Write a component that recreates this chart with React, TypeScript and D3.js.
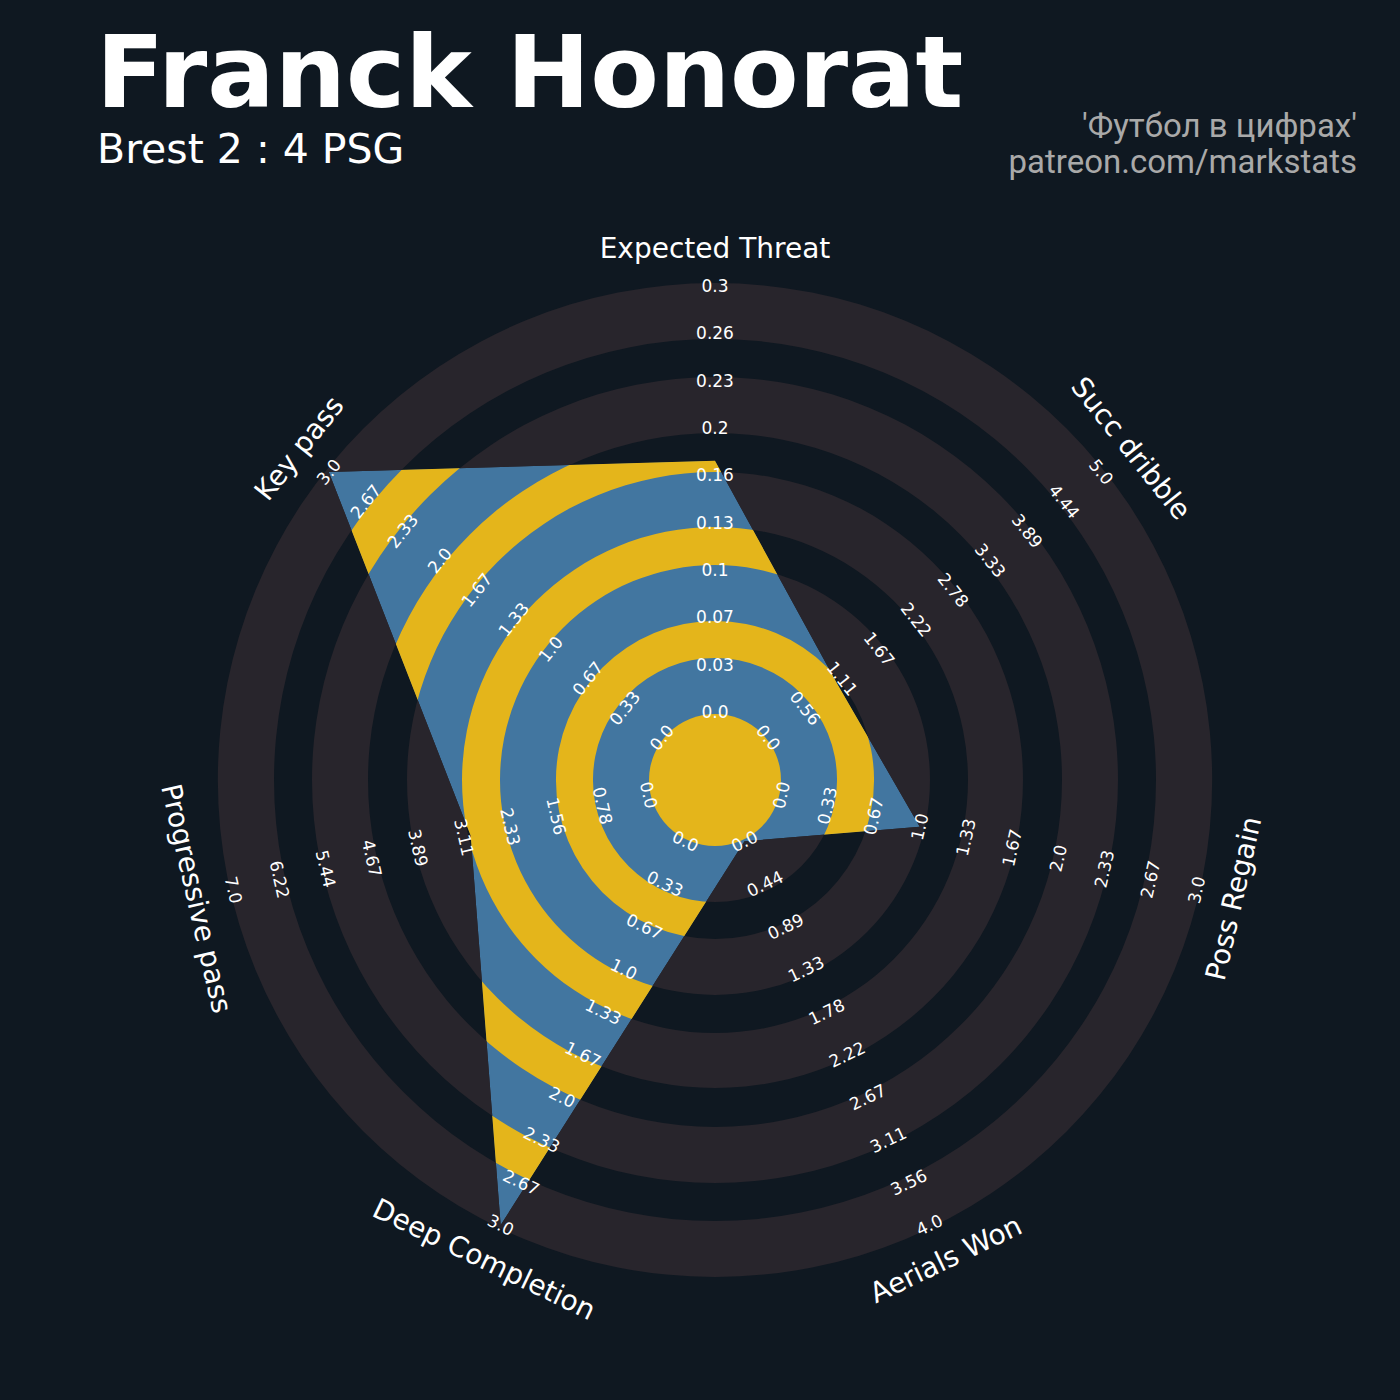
import React from 'react';
import * as d3 from 'd3';

// ---- data ----
const params = [
  'Expected Threat',
  'Succ dribble',
  'Poss Regain',
  'Aerials Won',
  'Deep Completion',
  'Progressive pass',
  'Key pass',
];
const lowRange = [0, 0, 0, 0, 0, 0, 0];
const highRange = [0.3, 5.0, 3.0, 4.0, 3.0, 7.0, 3.0];
const playerValues = [0.177, 1.03, 1.0, 0.0, 3.0, 3.0, 3.0];

const xtLabels = ['0.0', '0.03', '0.07', '0.1', '0.13', '0.16', '0.2', '0.23', '0.26', '0.3'];
const dribbleLabels = ['0.0', '0.56', '1.11', '1.67', '2.22', '2.78', '3.33', '3.89', '4.44', '5.0'];
const regainLabels = ['0.0', '0.33', '0.67', '1.0', '1.33', '1.67', '2.0', '2.33', '2.67', '3.0'];
const aerialLabels = ['0.0', '0.44', '0.89', '1.33', '1.78', '2.22', '2.67', '3.11', '3.56', '4.0'];
const deepLabels = ['0.0', '0.33', '0.67', '1.0', '1.33', '1.67', '2.0', '2.33', '2.67', '3.0'];
const progLabels = ['0.0', '0.78', '1.56', '2.33', '3.11', '3.89', '4.67', '5.44', '6.22', '7.0'];
const keyPassLabels = ['0.0', '0.33', '0.67', '1.0', '1.33', '1.67', '2.0', '2.33', '2.67', '3.0'];
const rangeLabels = [xtLabels, dribbleLabels, regainLabels, aerialLabels, deepLabels, progLabels, keyPassLabels];

const titleText = 'Franck Honorat';
const subtitleText = 'Brest 2 : 4 PSG';
const creditLines = ["'Футбол в цифрах'", 'patreon.com/markstats'];

// ---- layout & style ----
const W = 1400;
const H = 1400;
const CX = 715;
const CY = 780;
const R_MIN = 68;
const R_MAX = 494;
const CENTER_R = 66;
const LABEL_R = 532;

const BG = '#0f1821';
const RING = '#28252c';
const BLUE = '#4276a0';
const GOLD = '#e4b51b';

// background bands (inner disk + four rings) and the gold bands shown inside the radar
const grayBands: [number, number][] = [[0, 122], [159, 215], [253, 308], [347, 403], [441, 497]];
const goldBands: [number, number][] = [[122, 159], [215, 253], [308, 347], [403, 441]];

const n = params.length;
const angleOf = (i: number) => (i * 2 * Math.PI) / n;
const scales = params.map((_, i) =>
  d3.scaleLinear().domain([lowRange[i], highRange[i]]).range([R_MIN, R_MAX])
);

const polar = (angle: number, r: number): [number, number] => [
  CX + r * Math.sin(angle),
  CY - r * Math.cos(angle),
];

// keep every label readable: flip the ones on the lower half
const labelRotation = (i: number) => {
  const a = (i * 360) / n;
  if (a <= 90) return a;
  if (a < 270) return a - 180;
  return a - 360;
};

const annulus = (inner: number, outer: number) =>
  d3.arc()({
    innerRadius: inner,
    outerRadius: outer,
    startAngle: 0,
    endAngle: 2 * Math.PI,
  }) as string;

export default function App() {
  const radarPath = d3
    .lineRadial<number>()
    .angle((_, i) => angleOf(i))
    .radius((v, i) => scales[i](v))
    .curve(d3.curveLinearClosed)(playerValues) as string;

  const font = "'DejaVu Sans', sans-serif";

  return (
    <svg
      width={W}
      height={H}
      viewBox={`0 0 ${W} ${H}`}
      style={{ position: 'absolute', left: 0, top: 0, display: 'block' }}
    >
      <rect x={0} y={0} width={W} height={H} fill={BG} />

      <defs>
        <clipPath id="radar-clip">
          <path d={radarPath} transform={`translate(${CX},${CY})`} />
        </clipPath>
      </defs>

      {/* background rings */}
      <g transform={`translate(${CX},${CY})`}>
        {grayBands.map(([a, b], i) => (
          <path key={i} d={annulus(a, b)} fill={RING} />
        ))}
      </g>

      {/* radar polygon with its inner rings */}
      <g clipPath="url(#radar-clip)">
        <g transform={`translate(${CX},${CY})`}>
          <path d={radarPath} fill={BLUE} />
          {goldBands.map(([a, b], i) => (
            <path key={i} d={annulus(a, b)} fill={GOLD} />
          ))}
        </g>
      </g>
      <circle cx={CX} cy={CY} r={CENTER_R} fill={GOLD} />

      {/* range labels */}
      {params.map((_, i) => {
        const ang = angleOf(i);
        const rot = labelRotation(i);
        const step = (highRange[i] - lowRange[i]) / (rangeLabels[i].length - 1);
        return rangeLabels[i].map((lab, k) => {
          const [x, y] = polar(ang, scales[i](lowRange[i] + k * step));
          return (
            <text
              key={`${i}-${k}`}
              transform={`translate(${x},${y}) rotate(${rot})`}
              textAnchor="middle"
              dominantBaseline="central"
              fontFamily={font}
              fontSize={17}
              fill="#ffffff"
            >
              {lab}
            </text>
          );
        });
      })}

      {/* parameter names */}
      {params.map((p, i) => {
        const [x, y] = polar(angleOf(i), LABEL_R);
        return (
          <text
            key={p}
            transform={`translate(${x},${y}) rotate(${labelRotation(i)})`}
            textAnchor="middle"
            dominantBaseline="central"
            fontFamily={font}
            fontSize={28}
            fill="#ffffff"
          >
            {p}
          </text>
        );
      })}

      {/* header */}
      <text x={96} y={107} fontFamily={font} fontWeight="bold" fontSize={100} fill="#ffffff">
        {titleText}
      </text>
      <text x={97} y={163} fontFamily={font} fontSize={41} fill="#ffffff">
        {subtitleText}
      </text>
      {creditLines.map((line, i) => (
        <text
          key={line}
          x={1357}
          y={137 + i * 36}
          textAnchor="end"
          fontFamily="Roboto, sans-serif"
          fontSize={33}
          fill="#a9a9a9"
        >
          {line}
        </text>
      ))}
    </svg>
  );
}
